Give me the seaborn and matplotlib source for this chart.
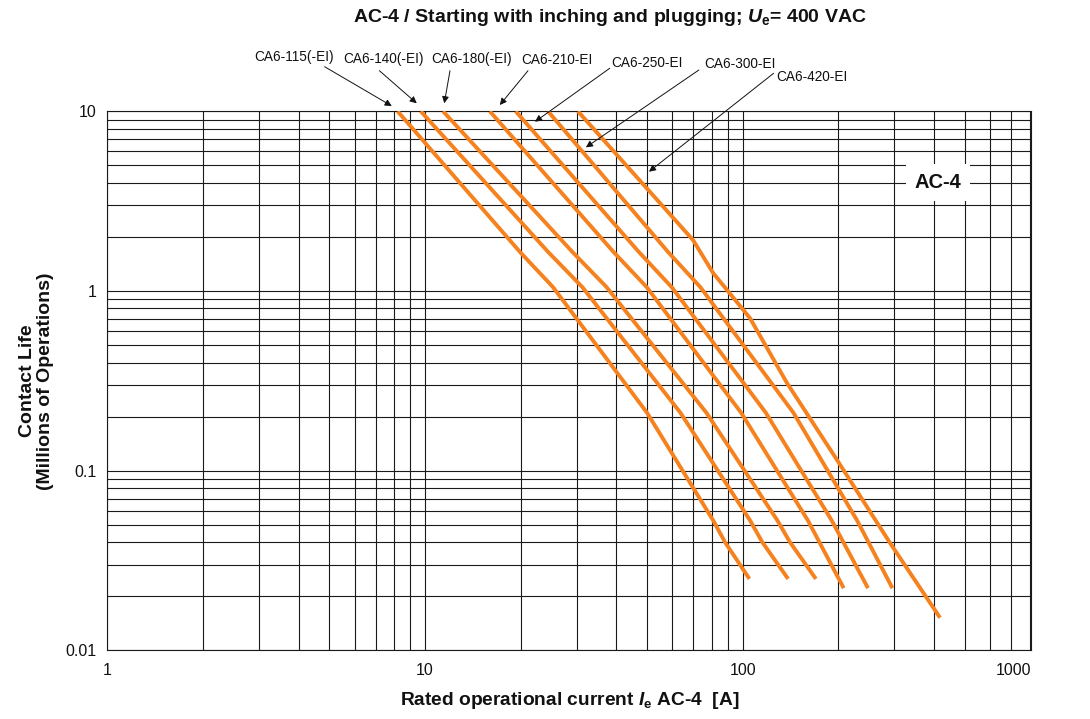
import numpy as np
import pandas as pd
import matplotlib
matplotlib.use("Agg")
import matplotlib.pyplot as plt
import seaborn as sns
from matplotlib.ticker import LogLocator, NullFormatter, FixedLocator, FixedFormatter

# ---------------- data ----------------
models = ["CA6-115(-EI)", "CA6-140(-EI)", "CA6-180(-EI)", "CA6-210-EI",
          "CA6-250-EI", "CA6-300-EI", "CA6-420-EI"]

cur_115 = [8.2, 19.9, 25.3, 50.0, 80.7, 88.0, 105.0]
life_115 = [10.0, 1.65, 1.05, 0.21, 0.053, 0.040, 0.025]

cur_140 = [9.7, 24.4, 31.3, 63.7, 105.4, 115.3, 139.0]
life_140 = [10.0, 1.65, 1.05, 0.21, 0.053, 0.040, 0.025]

cur_180 = [11.4, 29.1, 37.3, 76.9, 128.5, 140.9, 170.0]
life_180 = [10.0, 1.65, 1.05, 0.21, 0.053, 0.040, 0.025]

cur_210 = [16.0, 39.2, 49.9, 98.9, 160.3, 208.0]
life_210 = [10.0, 1.65, 1.05, 0.21, 0.053, 0.0222]

cur_250 = [19.3, 47.1, 59.8, 118.3, 190.5, 248.0]
life_250 = [10.0, 1.65, 1.05, 0.21, 0.053, 0.0222]

cur_300 = [24.4, 58.2, 73.6, 144.5, 229.0, 296.0]
life_300 = [10.0, 1.65, 1.05, 0.21, 0.053, 0.0222]

cur_420 = [30.3, 69.8, 80.7, 105.4, 137.8, 198.0, 291.0, 418.0]
life_420 = [10.0, 1.92, 1.26, 0.707, 0.308, 0.115, 0.0396, 0.0152]

currents = [cur_115, cur_140, cur_180, cur_210, cur_250, cur_300, cur_420]
lives = [life_115, life_140, life_180, life_210, life_250, life_300, life_420]

x_ticks = [1, 10, 100]
x_tick_labels = ["1", "10", "100", "1000"]
y_ticks = [0.01, 0.1, 1, 10]
y_tick_labels = ["0.01", "0.1", "1", "10"]

# label arrow heads (data) pointing at the curves
arrow_heads = [(7.86, 10.7), (9.42, 11.08), (11.5, 11.08), (17.2, 10.84),
               (22.2, 8.75), (32.1, 6.30), (50.7, 4.61)]

df = pd.concat([pd.DataFrame({"model": m, "current": c, "life": l})
                for m, c, l in zip(models, currents, lives)], ignore_index=True)

# ---------------- style ----------------
sns.set_theme(style="white")
plt.rcParams["font.family"] = ["Liberation Sans", "DejaVu Sans"]
plt.rcParams["mathtext.fontset"] = "custom"
plt.rcParams["mathtext.rm"] = "Liberation Sans:bold"
plt.rcParams["mathtext.it"] = "Liberation Sans:bold:italic"

W, H = 1090, 719
fig = plt.figure(figsize=(W / 100, H / 100), dpi=100)
left_px, right_px, top_px, bot_px = 107.3, 1031.3, 111.3, 650.4
ax = fig.add_axes([left_px / W, 1 - bot_px / H, (right_px - left_px) / W, (bot_px - top_px) / H])

orange = "#F5821F"
for m in models:
    sub = df[df["model"] == m]
    sns.lineplot(data=sub, x="current", y="life", ax=ax, color=orange,
                 lw=2.8, sort=False, estimator=None, solid_capstyle="butt", zorder=3)

ax.set_xscale("log")
ax.set_yscale("log")
XMAX = 810
ax.set_xlim(1, XMAX)
ax.set_ylim(0.01, 10)

ax.xaxis.set_major_locator(FixedLocator(x_ticks + [XMAX]))
ax.xaxis.set_major_formatter(FixedFormatter(x_tick_labels))
ax.xaxis.set_minor_locator(LogLocator(base=10, subs=np.arange(2, 10)))
ax.xaxis.set_minor_formatter(NullFormatter())
ax.yaxis.set_major_locator(FixedLocator(y_ticks))
ax.yaxis.set_major_formatter(FixedFormatter(y_tick_labels))
ax.yaxis.set_minor_locator(LogLocator(base=10, subs=np.arange(2, 10)))
ax.yaxis.set_minor_formatter(NullFormatter())

ax.grid(which="both", color="#1a1a1a", lw=0.8, zorder=1)
ax.set_axisbelow(True)
for s in ax.spines.values():
    s.set_color("#1a1a1a")
    s.set_linewidth(0.8)

ax.tick_params(axis="both", which="major", direction="out", length=4, width=0.8,
               color="#1a1a1a", labelsize=11.5, pad=4, labelcolor="#111")
ax.tick_params(axis="x", which="minor", length=0)
ax.tick_params(axis="y", which="minor", direction="out", length=3, width=0.7, color="#1a1a1a")
ax.tick_params(axis="x", which="major", pad=5)
ax.get_xticklabels()[-1].set_horizontalalignment("right")

ax.set_xlabel(r"Rated operational current $\mathit{I}_\mathrm{e}$ AC-4  [A]",
              fontsize=13.8, fontweight="bold", color="#111")
ax.xaxis.set_label_coords(0.5, -0.073)
ax.xaxis.label.set_va("top")
ax.set_ylabel("Contact Life\n(Millions of Operations)", fontsize=14,
              fontweight="bold", color="#111", linespacing=1.05)
ax.yaxis.set_label_coords(-0.058, 0.5)

fig.text(610 / W, 1 - 18 / H,
         r"AC-4 / Starting with inching and plugging; $\mathit{U}_\mathrm{e}$= 400 VAC",
         ha="center", va="center", fontsize=14, fontweight="bold", color="#111")

ax.text(412, 4.0, "AC-4", ha="center", va="center", fontsize=14.5, fontweight="bold",
        color="#111", zorder=4,
        bbox=dict(boxstyle="square,pad=0.45", fc="white", ec="none"))

# labels with arrows
text_pos = [(294, 57), (384, 59), (472, 59), (557, 60), (647, 63), (740, 64), (812, 77)]
tail_pos = [(324.6, 66.7), (379.4, 70.7), (450, 70.7), (528, 70.7), (609.7, 68.3),
            (698.9, 70), (773.6, 73.3)]
for m, (tx, ty), (ax_, ay_), head in zip(models, text_pos, tail_pos, arrow_heads):
    fig.text(tx / W, 1 - ty / H, m, ha="center", va="center", fontsize=9.8, color="#111")
    ax.annotate("", xy=head, xycoords="data",
                xytext=(ax_, H - ay_), textcoords="figure pixels",
                annotation_clip=False,
                arrowprops=dict(arrowstyle="-|>", color="#111", lw=0.7,
                                mutation_scale=10, shrinkA=0, shrinkB=0))

fig.savefig("out.png", dpi=100)
